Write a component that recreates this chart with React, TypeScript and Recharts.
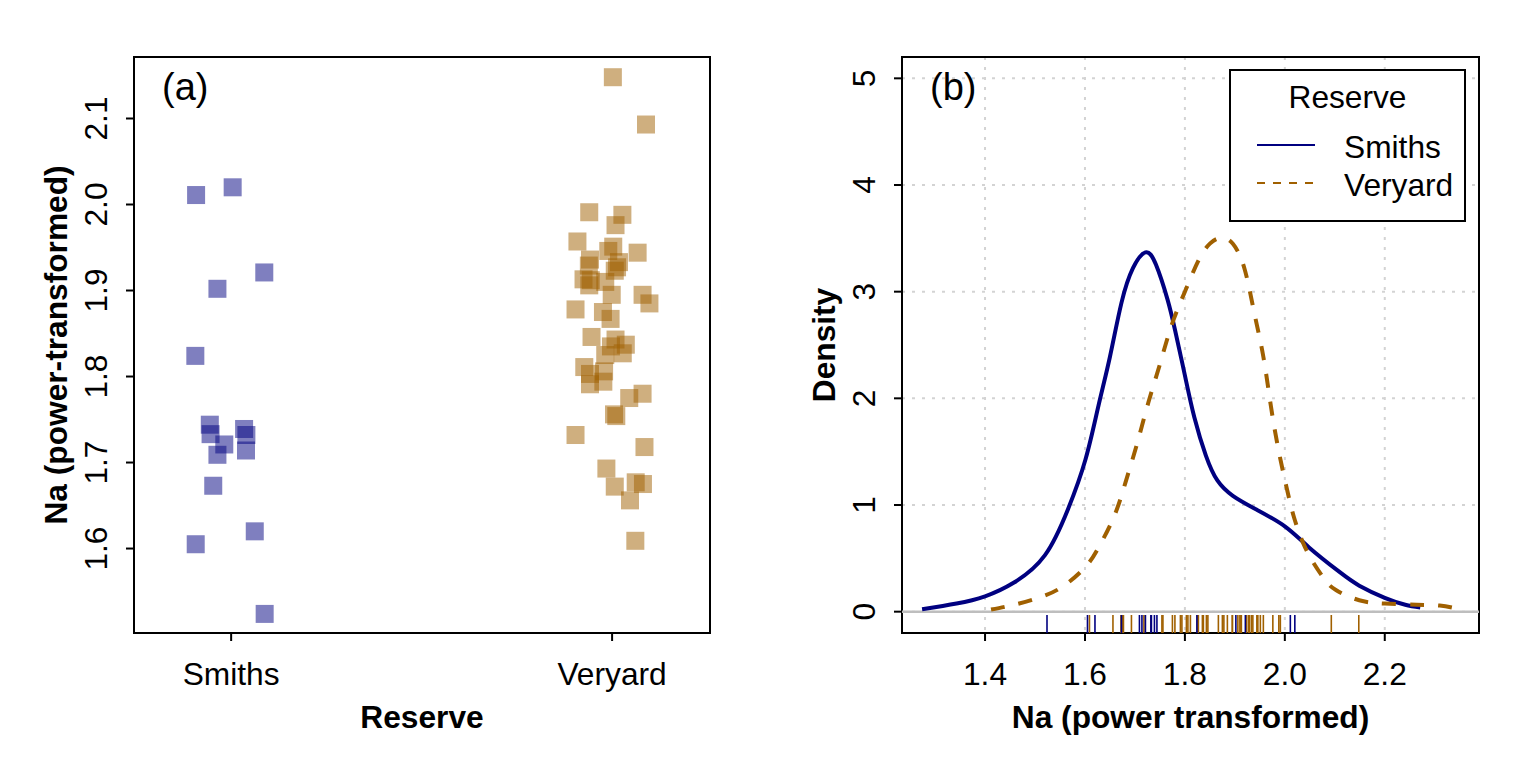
import React from 'react';
import {
  ScatterChart,
  ComposedChart,
  Scatter,
  Line,
  XAxis,
  YAxis,
  CartesianGrid,
  ReferenceArea,
  ReferenceLine,
  Legend,
} from 'recharts';

// ---------------- data ----------------
const reserves = ['Smiths', 'Veryard'];
const reserveColors = ['#000080', '#A06000'];

// panel (a): jittered strip chart
const smithsJitter = [0.908, 1.004, 1.087, 0.964, 0.906, 0.944, 0.946, 0.982, 0.964, 1.034, 1.04, 1.039, 0.953, 1.062, 0.907, 1.088];
const smithsNa = [2.011, 2.02, 1.921, 1.902, 1.824, 1.744, 1.733, 1.721, 1.709, 1.739, 1.732, 1.714, 1.673, 1.62, 1.605, 1.524];

const veryardJitter = [
  2.002, 2.089, 1.94, 2.027, 2.009, 1.909, 2.003, 1.99, 2.067, 1.942, 2.018, 1.939, 2.013, 2.007, 1.925, 1.944,
  1.982, 1.94, 1.999, 2.08, 2.098, 1.904, 1.976, 1.996, 1.946, 2.009, 2.036, 1.997, 1.982, 2.028, 1.927, 1.979,
  1.942, 1.977, 1.942, 2.08, 2.045, 2.005, 2.011, 1.904, 2.085, 1.985, 2.007, 2.062, 2.081, 2.047, 2.061,
];
const veryardNa = [
  2.148, 2.093, 1.991, 1.988, 1.976, 1.957, 1.951, 1.946, 1.944, 1.936, 1.933, 1.929, 1.927, 1.923, 1.913, 1.912,
  1.91, 1.906, 1.895, 1.895, 1.885, 1.878, 1.875, 1.867, 1.846, 1.843, 1.837, 1.835, 1.825, 1.827, 1.811, 1.806,
  1.803, 1.794, 1.791, 1.78, 1.775, 1.756, 1.754, 1.732, 1.718, 1.693, 1.672, 1.677, 1.675, 1.656, 1.609,
];

const naTicks = [1.6, 1.7, 1.8, 1.9, 2.0, 2.1];
const reserveTicks = [1, 2];

// panel (b): kernel density estimates
const smithsDensX = [1.274, 1.343, 1.4, 1.458, 1.52, 1.566, 1.601, 1.627, 1.65, 1.673, 1.696, 1.721, 1.742, 1.765, 1.78, 1.8, 1.819, 1.842, 1.865, 1.896, 1.942, 2.0, 2.049, 2.11, 2.149, 2.2, 2.241, 2.271];
const smithsDensY = [0.022, 0.076, 0.144, 0.273, 0.53, 0.96, 1.426, 1.93, 2.39, 2.895, 3.22, 3.368, 3.254, 2.93, 2.645, 2.215, 1.82, 1.463, 1.23, 1.086, 0.96, 0.8, 0.6, 0.37, 0.244, 0.13, 0.065, 0.04];

const veryardDensX = [1.412, 1.458, 1.512, 1.558, 1.601, 1.627, 1.658, 1.681, 1.704, 1.727, 1.75, 1.773, 1.8, 1.827, 1.85, 1.873, 1.896, 1.919, 1.938, 1.957, 1.972, 1.988, 2.003, 2.018, 2.037, 2.057, 2.08, 2.103, 2.149, 2.2, 2.264, 2.31, 2.344];
const veryardDensY = [0.02, 0.065, 0.137, 0.244, 0.42, 0.6, 0.89, 1.21, 1.57, 1.963, 2.32, 2.68, 3.0, 3.29, 3.45, 3.505, 3.45, 3.22, 2.82, 2.39, 1.93, 1.5, 1.175, 0.89, 0.64, 0.46, 0.3, 0.2, 0.107, 0.076, 0.065, 0.057, 0.029];

const densXTicks = [1.4, 1.6, 1.8, 2.0, 2.2];
const densYTicks = [0, 1, 2, 3, 4, 5];

// ---------------- derived ----------------
const smithsPts = smithsNa.map((y, i) => ({ x: smithsJitter[i], y }));
const veryardPts = veryardNa.map((y, i) => ({ x: veryardJitter[i], y }));
const smithsDens = smithsDensX.map((x, i) => ({ x, y: smithsDensY[i] }));
const veryardDens = veryardDensX.map((x, i) => ({ x, y: veryardDensY[i] }));

const leftX: [number, number] = [0.745, 2.257];
const leftY: [number, number] = [1.5018, 2.1715];
const rightX: [number, number] = [1.2338, 2.3886];
const rightY: [number, number] = [-0.2, 5.2];

const smithsRug = smithsNa.map((v) => ({ x: v, y: rightY[0] }));
const veryardRug = veryardNa.map((v) => ({ x: v, y: rightY[0] }));

// ---------------- style / layout ----------------
const FONT = '"Liberation Sans", Arial, Helvetica, sans-serif';
const FS = 31.7;
const W = 768;
const H = 768;
const PL = 134;
const PT = 57;
const PB = 633;
const TICK_BASE = 685;
const TITLE_BASE = 728;

const makeXTick = (fmt: (v: number) => string) => (props: any) => {
  const { x, payload } = props;
  return (
    <text x={x} y={TICK_BASE} textAnchor="middle" fontFamily={FONT} fontSize={FS} fill="#000">
      {fmt(payload.value)}
    </text>
  );
};

const makeYTick = (fmt: (v: number) => string) => (props: any) => {
  const { y, payload } = props;
  const bx = PL - 27;
  return (
    <text
      x={bx}
      y={y}
      transform={`rotate(-90 ${bx} ${y})`}
      textAnchor="middle"
      fontFamily={FONT}
      fontSize={FS}
      fill="#000"
    >
      {fmt(payload.value)}
    </text>
  );
};

const xTitle = (txt: string, cx: number) => () => (
  <text x={cx} y={TITLE_BASE} textAnchor="middle" fontFamily={FONT} fontSize={FS} fontWeight="bold" fill="#000">
    {txt}
  </text>
);

const yTitle = (txt: string) => () => {
  const bx = PL - 67;
  const cy = (PT + PB) / 2;
  return (
    <text
      x={bx}
      y={cy}
      transform={`rotate(-90 ${bx} ${cy})`}
      textAnchor="middle"
      fontFamily={FONT}
      fontSize={FS}
      fontWeight="bold"
      fill="#000"
    >
      {txt}
    </text>
  );
};

const panelTag = (txt: string) => () => (
  <text x={PL + 28} y={100} fontFamily={FONT} fontSize={38} fill="#000">
    {txt}
  </text>
);

const square = (color: string) => (props: any) => {
  const { cx, cy } = props;
  const s = 18;
  return <rect x={cx - s / 2} y={cy - s / 2} width={s} height={s} fill={color} fillOpacity={0.5} />;
};

const rugTick = (color: string) => (props: any) => {
  const { cx, cy } = props;
  return <line x1={cx} x2={cx} y1={cy} y2={cy - 18} stroke={color} strokeWidth={1.6} />;
};

const LegendBox = (props: any) => {
  const payload = (props.payload || []).filter((p: any) => reserves.includes(p.value));
  const items = payload.length ? payload.map((p: any) => p.value) : reserves;
  return (
    <svg width={237} height={153} style={{ display: 'block' }}>
      <rect x={1} y={1} width={235} height={151} fill="#fff" stroke="#000" strokeWidth={2} />
      <text x={118.5} y={38.5} textAnchor="middle" fontFamily={FONT} fontSize={FS} fill="#000">
        Reserve
      </text>
      {items.map((name: string, i: number) => {
        const idx = reserves.indexOf(name);
        return (
          <g key={name}>
            <line
              x1={28}
              x2={86}
              y1={76 + i * 38}
              y2={76 + i * 38}
              stroke={reserveColors[idx]}
              strokeWidth={2}
              strokeDasharray={idx === 1 ? '8 8' : undefined}
            />
            <text x={115} y={89 + i * 38} fontFamily={FONT} fontSize={FS} fill="#000">
              {name}
            </text>
          </g>
        );
      })}
    </svg>
  );
};

const StripPanel = () => (
  <ScatterChart width={W} height={H} margin={{ top: PT, right: 58, bottom: 0, left: 0 }}>
    <XAxis
      type="number"
      dataKey="x"
      domain={leftX}
      allowDataOverflow
      ticks={reserveTicks}
      interval={0}
      axisLine={false}
      tickLine={{ stroke: '#000', strokeWidth: 2 }}
      tickSize={8}
      tickMargin={0}
      height={H - PB}
      tick={makeXTick((v) => reserves[v - 1])}
      label={xTitle('Reserve', (PL + 710) / 2)}
    />
    <YAxis
      type="number"
      dataKey="y"
      domain={leftY}
      allowDataOverflow
      ticks={naTicks}
      interval={0}
      axisLine={false}
      tickLine={{ stroke: '#000', strokeWidth: 2 }}
      tickSize={8}
      tickMargin={0}
      width={PL}
      tick={makeYTick((v) => v.toFixed(1))}
      label={yTitle('Na (power-transformed)')}
    />
    <Scatter name="Smiths" data={smithsPts} shape={square(reserveColors[0])} isAnimationActive={false} />
    <Scatter name="Veryard" data={veryardPts} shape={square(reserveColors[1])} isAnimationActive={false} />
    <ReferenceArea
      x1={leftX[0]}
      x2={leftX[1]}
      y1={leftY[0]}
      y2={leftY[1]}
      fill="none"
      fillOpacity={0}
      stroke="#000"
      strokeWidth={2}
      ifOverflow="visible"
      label={panelTag('(a)')}
    />
  </ScatterChart>
);

const DensityPanel = () => (
  <ComposedChart width={W} height={H} margin={{ top: PT, right: 57, bottom: 0, left: 0 }}>
    <CartesianGrid stroke="#d3d3d3" strokeWidth={2} strokeDasharray="3 7" />
    <XAxis
      type="number"
      dataKey="x"
      domain={rightX}
      allowDataOverflow
      ticks={densXTicks}
      interval={0}
      axisLine={false}
      tickLine={{ stroke: '#000', strokeWidth: 2 }}
      tickSize={8}
      tickMargin={0}
      height={H - PB}
      tick={makeXTick((v) => v.toFixed(1))}
      label={xTitle('Na (power transformed)', (PL + 711) / 2)}
    />
    <YAxis
      type="number"
      dataKey="y"
      domain={rightY}
      allowDataOverflow
      ticks={densYTicks}
      interval={0}
      axisLine={false}
      tickLine={{ stroke: '#000', strokeWidth: 2 }}
      tickSize={8}
      tickMargin={0}
      width={PL}
      tick={makeYTick((v) => String(v))}
      label={yTitle('Density')}
    />
    <ReferenceLine y={0} stroke="#bebebe" strokeWidth={2.5} ifOverflow="visible" />
    <Line
      name="Smiths"
      data={smithsDens}
      dataKey="y"
      type="natural"
      stroke={reserveColors[0]}
      strokeWidth={4}
      dot={false}
      activeDot={false}
      isAnimationActive={false}
    />
    <Line
      name="Veryard"
      data={veryardDens}
      dataKey="y"
      type="natural"
      stroke={reserveColors[1]}
      strokeWidth={4}
      strokeDasharray="14 14"
      dot={false}
      activeDot={false}
      isAnimationActive={false}
    />
    <Scatter name="rugV" data={veryardRug} dataKey="y" shape={rugTick(reserveColors[1])} legendType="none" isAnimationActive={false} />
    <Scatter name="rugS" data={smithsRug} dataKey="y" shape={rugTick(reserveColors[0])} legendType="none" isAnimationActive={false} />
    <ReferenceArea
      x1={rightX[0]}
      x2={rightX[1]}
      y1={rightY[0]}
      y2={rightY[1]}
      fill="none"
      fillOpacity={0}
      stroke="#000"
      strokeWidth={2}
      ifOverflow="visible"
      label={panelTag('(b)')}
    />
    <Legend
      layout="vertical"
      align="center"
      verticalAlign="middle"
      content={(p: any) => <LegendBox {...p} />}
      wrapperStyle={{ left: 461, top: 69, width: 237, height: 153, margin: 0, padding: 0 }}
    />
  </ComposedChart>
);

export default function App() {
  return (
    <div style={{ position: 'absolute', left: 0, top: 0, width: 1536, height: 768, background: '#fff', overflow: 'hidden' }}>
      <div style={{ position: 'absolute', left: 0, top: 0, width: W, height: H }}>
        <StripPanel />
      </div>
      <div style={{ position: 'absolute', left: W, top: 0, width: W, height: H }}>
        <DensityPanel />
      </div>
    </div>
  );
}
